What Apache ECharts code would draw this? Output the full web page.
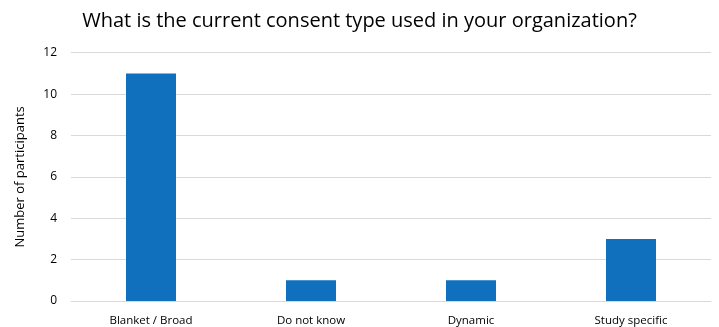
<!DOCTYPE html>
<html>
<head>
<meta charset="utf-8">
<script src="https://cdn.jsdelivr.net/npm/echarts@6/dist/echarts.min.js"></script>
<style>
  html, body { margin: 0; padding: 0; background: #fff; }
  #chart { width: 719px; height: 327px; }
</style>
</head>
<body>
<div id="chart"></div>
<script>
// Consent types reported and the number of participants for each
const categories = ['Blanket / Broad', 'Do not know', 'Dynamic', 'Study specific'];
const participants = [11, 1, 1, 3];
const yTicks = [0, 2, 4, 6, 8, 10, 12];

const font = 'Open Sans, Liberation Sans, sans-serif';
const chart = echarts.init(document.getElementById('chart'), null, { renderer: 'canvas' });

chart.setOption({
  animation: false,
  backgroundColor: '#ffffff',
  title: {
    text: 'What is the current consent type used in your organization?',
    left: 'center',
    top: 6,
    textStyle: { fontFamily: font, fontSize: 20, fontWeight: 'normal', color: '#000' }
  },
  grid: { left: 71, right: 8, top: 52.7, bottom: 24.3, containLabel: false },
  xAxis: {
    type: 'category',
    data: categories,
    axisLine: { lineStyle: { color: '#d9d9d9', width: 1 } },
    axisTick: { show: false },
    axisLabel: { fontFamily: font, fontSize: 11.5, color: '#000', margin: 14 }
  },
  yAxis: {
    type: 'value',
    min: yTicks[0],
    max: yTicks[yTicks.length - 1],
    interval: 2,
    name: 'Number of participants',
    nameLocation: 'middle',
    nameGap: 44,
    nameTextStyle: { fontFamily: font, fontSize: 13, color: '#000' },
    axisLine: { show: false },
    axisTick: { show: false },
    axisLabel: { fontFamily: font, fontSize: 12, color: '#000', margin: 14 },
    splitLine: { lineStyle: { color: '#d9d9d9', width: 1 } }
  },
  series: [{
    type: 'bar',
    data: participants,
    barWidth: 50,
    itemStyle: { color: '#1170be' }
  }]
});
</script>
</body>
</html>
